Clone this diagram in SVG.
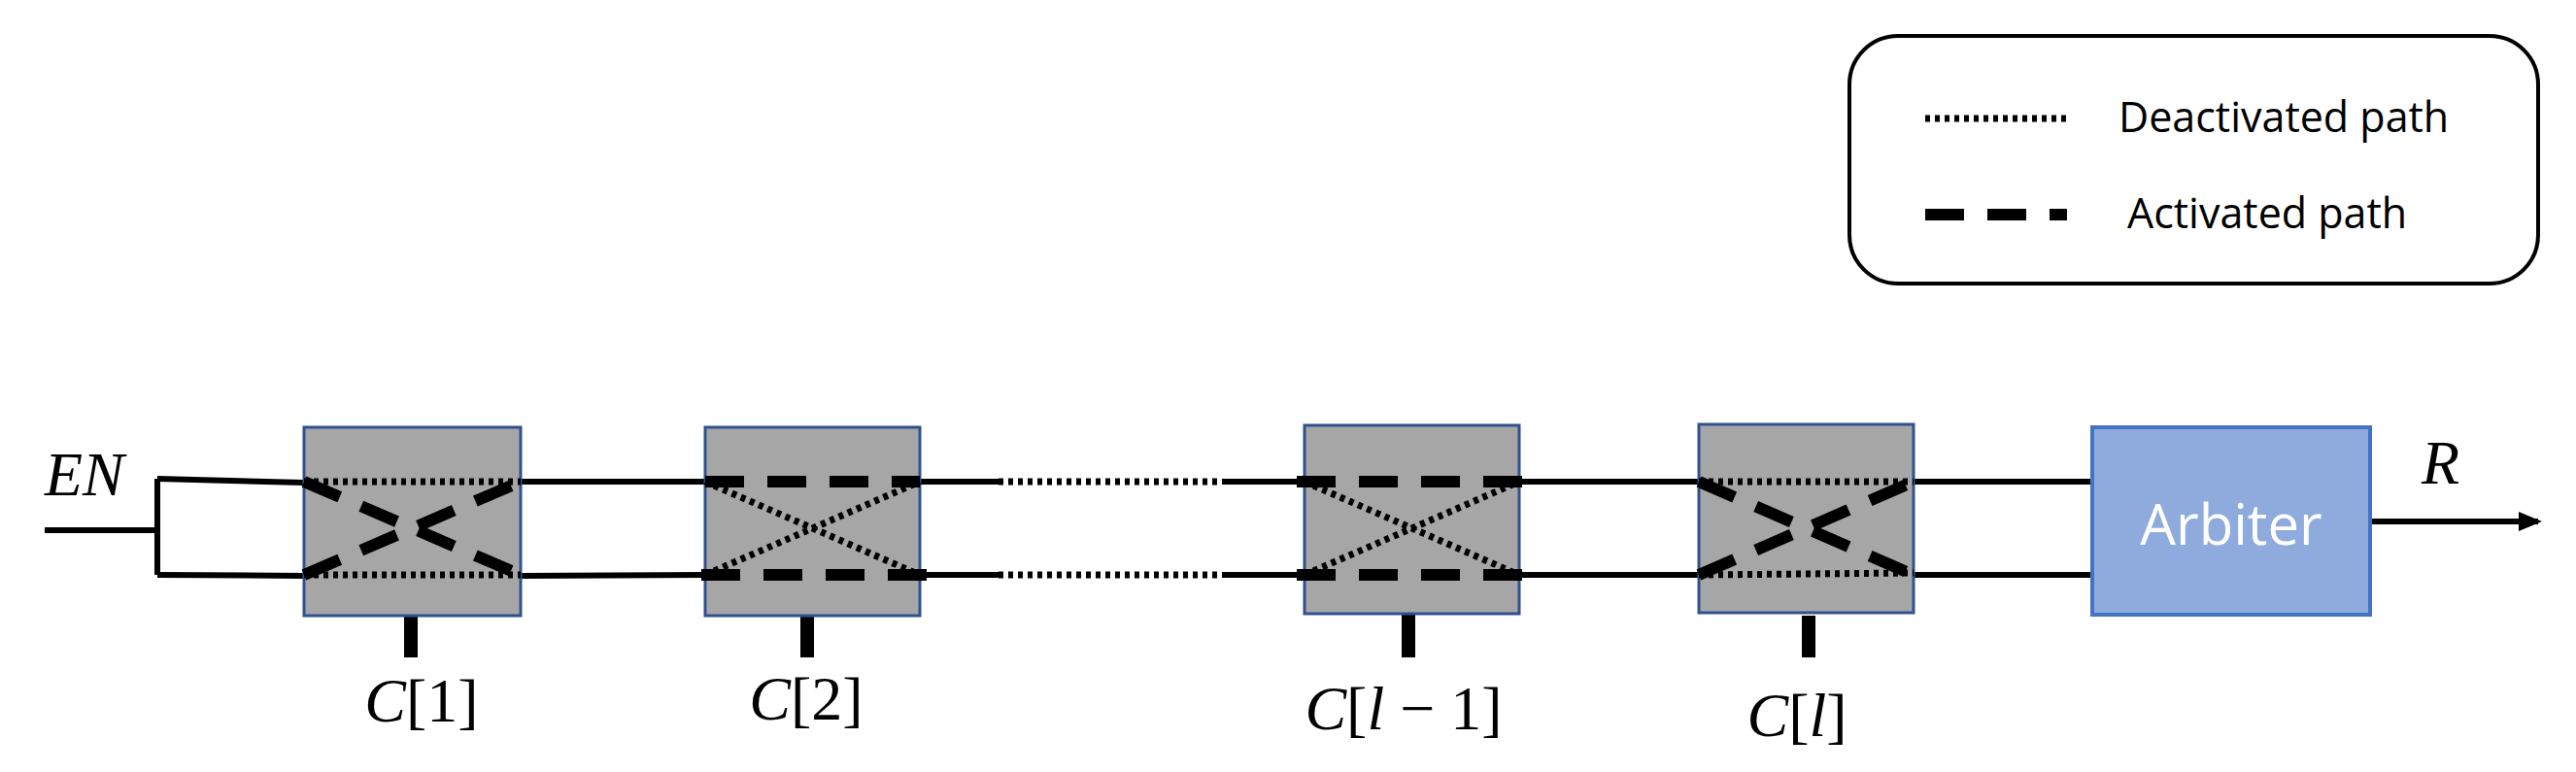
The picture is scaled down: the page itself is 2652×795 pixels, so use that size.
<svg xmlns="http://www.w3.org/2000/svg" width="2652" height="795" viewBox="0 0 2652 795">
<style>
.sw{fill:#a6a6a6;stroke:#2f528f;stroke-width:3}
.solid{stroke:#000;stroke-width:6;fill:none}
.dot{stroke:#000;stroke-width:7;stroke-dasharray:5 5;fill:none}
.dash{stroke:#000;stroke-width:12;stroke-dasharray:40 24;fill:none}
.stub{stroke:#000;stroke-width:14}
.m{font-family:"Liberation Serif",serif;font-size:64px;fill:#000}
.i{font-style:italic}
.lg{font-family:"Open Sans","Liberation Sans",sans-serif;font-size:43px;fill:#000}
</style>
<defs>
<marker id="ah" markerWidth="24" markerHeight="20" refX="20" refY="10" orient="auto" markerUnits="userSpaceOnUse"><path d="M0,0 L24,10 L0,20 z" fill="#000"/></marker>
</defs>
<g id="legend">
<rect x="1904" y="37" width="709" height="255" rx="50" fill="#fff" stroke="#000" stroke-width="4"/>
<line class="dot" x1="1982" y1="122" x2="2128" y2="122"/>
<text class="lg" x="2181" y="136">Deactivated path</text>
<line class="dash" x1="1982" y1="221" x2="2128" y2="221"/>
<text class="lg" x="2190" y="235">Activated path</text>
</g>
<g id="connectors">
<line class="solid" x1="46" y1="546" x2="162" y2="546"/>
<line class="solid" x1="162" y1="493" x2="162" y2="592"/>
<line class="solid" x1="162" y1="493" x2="313" y2="497"/>
<line class="solid" x1="162" y1="592" x2="313" y2="593"/>
<line class="solid" x1="536" y1="496" x2="726" y2="496"/>
<line class="solid" x1="536" y1="593" x2="726" y2="592"/>
<line class="solid" x1="947" y1="496" x2="1028" y2="496"/>
<line class="solid" x1="947" y1="592" x2="1028" y2="592"/>
<line class="dot" x1="1028" y1="496" x2="1258" y2="496"/>
<line class="dot" x1="1028" y1="592" x2="1258" y2="592"/>
<line class="solid" x1="1258" y1="496" x2="1343" y2="496"/>
<line class="solid" x1="1258" y1="592" x2="1343" y2="592"/>
<line class="solid" x1="1564" y1="496" x2="1749" y2="496"/>
<line class="solid" x1="1564" y1="592" x2="1749" y2="592"/>
<line class="solid" x1="1970" y1="496" x2="2154" y2="496"/>
<line class="solid" x1="1970" y1="592" x2="2154" y2="592"/>
<line class="solid" x1="2440" y1="537" x2="2613" y2="537" marker-end="url(#ah)"/>
<line class="stub" x1="423" y1="634" x2="423" y2="677"/>
<line class="stub" x1="831" y1="634" x2="831" y2="677"/>
<line class="stub" x1="1450" y1="632" x2="1450" y2="677"/>
<line class="stub" x1="1862" y1="634" x2="1862" y2="677"/>
</g>
<g id="sw1">
<rect class="sw" x="313" y="440" width="223" height="194"/>
<line class="dot" x1="313" y1="496" x2="536" y2="496"/>
<line class="dot" x1="313" y1="592" x2="536" y2="592"/>
<line class="dash" x1="313" y1="496" x2="536" y2="592"/>
<line class="dash" x1="313" y1="592" x2="536" y2="496"/>
</g>
<g id="sw2">
<rect class="sw" x="726" y="440" width="221" height="194"/>
<line class="dash" x1="726" y1="496" x2="947" y2="496"/>
<line class="dash" x1="722" y1="592" x2="955" y2="592"/>
<line class="dot" x1="726" y1="496" x2="947" y2="592"/>
<line class="dot" x1="726" y1="592" x2="947" y2="496"/>
</g>
<g id="sw3">
<rect class="sw" x="1343" y="438" width="221" height="194"/>
<line class="dash" x1="1335" y1="496" x2="1570" y2="496"/>
<line class="dash" x1="1335" y1="592" x2="1570" y2="592"/>
<line class="dot" x1="1343" y1="496" x2="1564" y2="592"/>
<line class="dot" x1="1343" y1="592" x2="1564" y2="496"/>
</g>
<g id="sw4">
<rect class="sw" x="1749" y="437" width="221" height="194"/>
<line class="dot" x1="1749" y1="496" x2="1970" y2="496"/>
<line class="dot" x1="1749" y1="592" x2="1970" y2="590"/>
<line class="dash" x1="1749" y1="496" x2="1970" y2="592"/>
<line class="dash" x1="1749" y1="592" x2="1970" y2="496"/>
</g>
<g id="arbiter">
<rect x="2154" y="440" width="286" height="193" fill="#8faadc" stroke="#4472c4" stroke-width="4"/>
<text x="2297" y="561" text-anchor="middle" font-family="Open Sans,Liberation Sans,sans-serif" font-size="58" fill="#fff">Arbiter</text>
</g>
<g id="labels">
<text class="m i" x="46" y="510">EN</text>
<text class="m i" x="2493" y="498">R</text>
<text class="m" x="434" y="743" text-anchor="middle"><tspan class="i">C</tspan>[1]</text>
<text class="m" x="830" y="741" text-anchor="middle"><tspan class="i">C</tspan>[2]</text>
<text class="m" x="1445" y="751" text-anchor="middle"><tspan class="i">C</tspan>[<tspan class="i">l</tspan> − 1]</text>
<text class="m" x="1850" y="758" text-anchor="middle"><tspan class="i">C</tspan>[<tspan class="i">l</tspan>]</text>
</g>
</svg>
